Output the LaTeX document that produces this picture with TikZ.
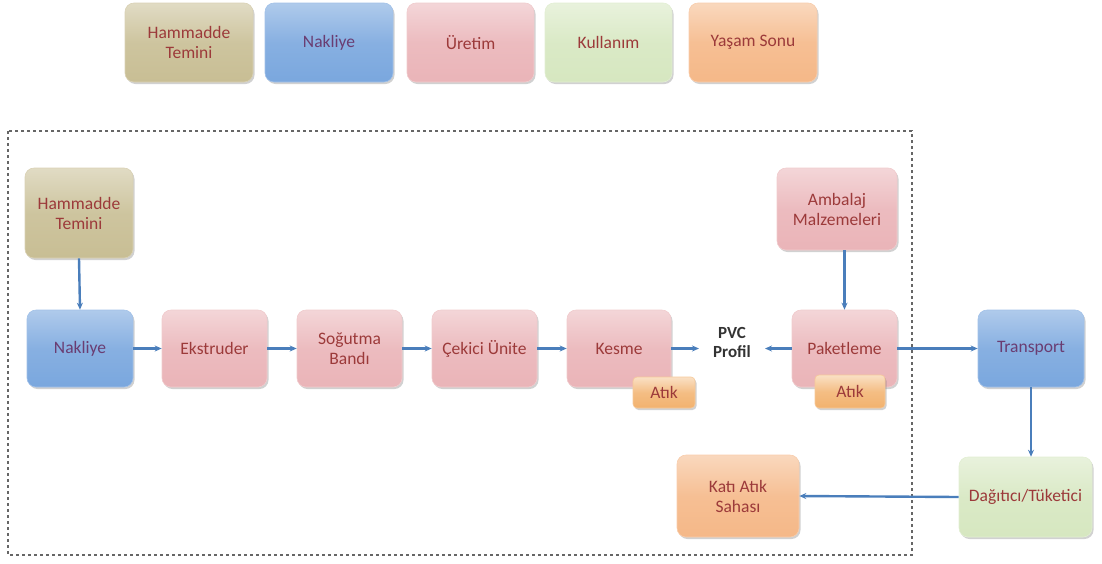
\documentclass[tikz,border=0pt]{standalone}
\usepackage{fontspec}
\setmainfont{Carlito}
\usetikzlibrary{arrows.meta,shadows,positioning}
\definecolor{olivebox}{HTML}{C8BE94}
\definecolor{bluebox}{HTML}{7AA7DE}
\definecolor{pinkbox}{HTML}{EAB4B8}
\definecolor{greenbox}{HTML}{D6E7C0}
\definecolor{orangebox}{HTML}{F5B888}
\definecolor{atikbox}{HTML}{F2B26E}
\definecolor{txtred}{HTML}{9C3A3A}
\definecolor{txtpurple}{HTML}{6A3D72}
\definecolor{arrowblue}{HTML}{4A7EBB}
\tikzset{
  boxbase/.style={rectangle, rounded corners=9pt, inner sep=2pt, align=center,
    font=\fontsize{17.5}{20}\selectfont, text=txtred,
    drop shadow={shadow xshift=1.5pt, shadow yshift=-2pt, opacity=0.3, fill=black!60}},
  hamm/.style={boxbase, top color=olivebox!55, bottom color=olivebox, middle color=olivebox!90, draw=olivebox!70!white, line width=0.6pt},
  nakl/.style={boxbase, top color=bluebox!60, bottom color=bluebox, middle color=bluebox!90, draw=bluebox!70!white, line width=0.6pt, text=txtpurple},
  uret/.style={boxbase, top color=pinkbox!55, bottom color=pinkbox, middle color=pinkbox!90, draw=pinkbox!70!white, line width=0.6pt},
  kull/.style={boxbase, top color=greenbox!55, bottom color=greenbox, middle color=greenbox!90, draw=greenbox!70!white, line width=0.6pt},
  yasam/.style={boxbase, top color=orangebox!55, bottom color=orangebox, middle color=orangebox!90, draw=orangebox!70!white, line width=0.6pt},
  atik/.style={boxbase, rounded corners=4pt, top color=atikbox!40, bottom color=atikbox, middle color=atikbox!85, draw=atikbox!70!white, line width=0.6pt},
  flow/.style={draw=arrowblue, line width=2.4pt, -{Stealth[length=7pt,width=6pt]}},
  frame/.style={draw=black!60, line width=1.4pt, dash pattern=on 3pt off 3pt}
}
\begin{document}
\begin{tikzpicture}[x=1pt,y=-1pt]
\useasboundingbox (0,0) rectangle (1102,563);
% legend
\node[hamm, minimum width=128pt, minimum height=79pt] (l1) at (189,42.5) {Hammadde\\Temini};
\node[nakl, minimum width=128pt, minimum height=79pt] (l2) at (329,42.5) {Nakliye};
\node[uret, minimum width=127pt, minimum height=79pt] (l3) at (470.5,42.5) {Üretim};
\node[kull, minimum width=127pt, minimum height=79pt] (l4) at (608.5,42.5) {Kullanım};
\node[yasam, minimum width=128pt, minimum height=79pt] (l5) at (753,42.5) {Yaşam Sonu};
% frame
\draw[frame] (8,131) rectangle (912,555);
% process
\node[hamm, minimum width=108pt, minimum height=90pt] (ht) at (79,213) {Hammadde\\Temini};
\node[nakl, minimum width=106pt, minimum height=77pt] (nk) at (80,348.5) {Nakliye};
\node[uret, minimum width=105pt, minimum height=77pt] (ek) at (214.5,348.5) {Ekstruder};
\node[uret, minimum width=105pt, minimum height=77pt] (sb) at (349.5,348.5) {Soğutma\\Bandı};
\node[uret, minimum width=105pt, minimum height=77pt] (cu) at (484.5,348.5) {Çekici Ünite};
\node[uret, minimum width=104pt, minimum height=77pt] (ks) at (619,348.5) {Kesme};
\node[atik, minimum width=62pt, minimum height=31pt] (a1) at (664,392.5) {Atık};
\node[font=\fontsize{17}{19}\selectfont\bfseries, text=black!80, align=center, inner sep=0pt] (pvc) at (732,342) {PVC\\Profil};
\node[uret, minimum width=120pt, minimum height=82pt] (am) at (837,209) {Ambalaj\\Malzemeleri};
\node[uret, minimum width=105pt, minimum height=77pt] (pk) at (844.5,348.5) {Paketleme};
\node[atik, minimum width=70pt, minimum height=33pt] (a2) at (850,391.5) {Atık};
\node[nakl, minimum width=106pt, minimum height=77pt] (tr) at (1031,348.5) {Transport};
\node[kull, minimum width=133pt, minimum height=80pt] (dt) at (1025.5,497) {Dağıtıcı/Tüketici};
\node[yasam, minimum width=122pt, minimum height=82pt] (ka) at (738,496) {Katı Atık\\Sahası};
% connectors
\draw[flow] (ht.south) -- (nk.north);
\draw[flow] (nk.east) -- (ek.west);
\draw[flow] (ek.east) -- (sb.west);
\draw[flow] (sb.east) -- (cu.west);
\draw[flow] (cu.east) -- (ks.west);
\draw[flow, shorten >=14pt] (ks.east) -- (pvc.west |- ks.east);
\draw[flow, shorten >=14pt] (pk.west) -- (pvc.east |- pk.west);
\draw[flow] (am.south -| pk.north) -- (pk.north);
\draw[flow] (pk.east) -- (tr.west);
\draw[flow] (tr.south) -- (tr.south |- dt.north);
\draw[flow] (dt.west) -- (ka.east);
\end{tikzpicture}
\end{document}
